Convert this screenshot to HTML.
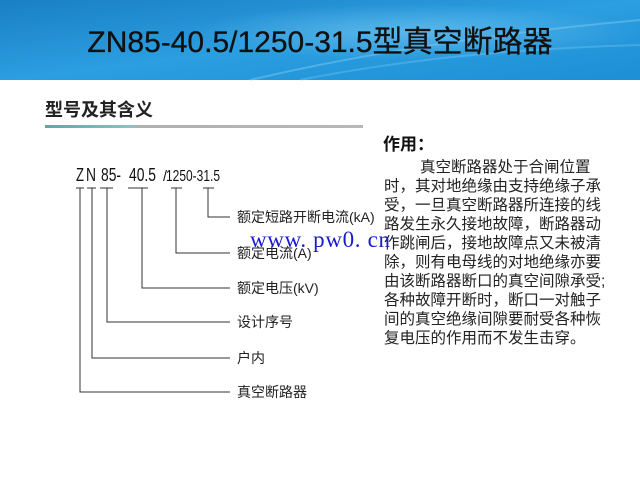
<!DOCTYPE html>
<html><head><meta charset="utf-8"><style>
html,body{margin:0;padding:0;width:640px;height:480px;overflow:hidden;background:#fff}
</style></head><body>
<svg width="640" height="480" xmlns="http://www.w3.org/2000/svg">
<defs>
<linearGradient id="bg" x1="0" y1="0" x2="1" y2="1">
<stop offset="0" stop-color="#1a7fc4"/><stop offset="0.5" stop-color="#2b9ee0"/><stop offset="1" stop-color="#1d8fd6"/>
</linearGradient>
<radialGradient id="glow" cx="0.65" cy="0.4" r="0.35">
<stop offset="0" stop-color="#7cc8f0" stop-opacity="0.6"/><stop offset="1" stop-color="#7cc8f0" stop-opacity="0"/>
</radialGradient>
<linearGradient id="ul" x1="0" x2="1"><stop offset="0" stop-color="#5aa8a8"/><stop offset="0.27" stop-color="#8fc0c0"/><stop offset="0.3" stop-color="#b0b0b0"/><stop offset="1" stop-color="#b8b8b8"/></linearGradient>
</defs>
<rect x="0" y="0" width="640" height="80" fill="url(#bg)"/>
<rect x="0" y="0" width="640" height="80" fill="url(#glow)"/>
<path d="M250 80 Q420 40 640 20" stroke="#8fd3f5" stroke-opacity="0.4" stroke-width="2" fill="none"/>
<path d="M300 80 Q450 50 640 45" stroke="#8fd3f5" stroke-opacity="0.3" stroke-width="2" fill="none"/>
<text x="320" y="52" text-anchor="middle" font-family="Liberation Sans, Noto Sans CJK SC, sans-serif" font-size="30" fill="#111" stroke="#111" stroke-width="0.3">ZN85-40.5/1250-31.5型真空断路器</text>
<text x="45" y="116" font-family="Liberation Sans, Noto Sans CJK SC, sans-serif" font-size="18" font-weight="bold" fill="#222">型号及其含义</text>
<rect x="45" y="125" width="318" height="3" fill="url(#ul)"/>

<g font-family="Liberation Sans Narrow, Liberation Sans, sans-serif" font-size="18" fill="#111" lengthAdjust="spacingAndGlyphs">
<text x="76" y="181" textLength="8" lengthAdjust="spacingAndGlyphs">Z</text>
<text x="86" y="181" textLength="10" lengthAdjust="spacingAndGlyphs">N</text>
<text x="101" y="181" textLength="20" lengthAdjust="spacingAndGlyphs">85-</text>
<text x="129" y="181" textLength="27" lengthAdjust="spacingAndGlyphs">40.5</text>
<text x="163" y="181" textLength="4" lengthAdjust="spacingAndGlyphs" font-size="15">/</text>
<text x="166" y="181" textLength="54" lengthAdjust="spacingAndGlyphs" font-size="16">1250-31.5</text>
</g>
<g stroke="#333" stroke-width="1" fill="none">
<path d="M76 188H84M87 188H96M100 188H113M128 188H148M171 188H182M203 188H214"/>
<path d="M80 188V392H230"/>
<path d="M92 188V358H230"/>
<path d="M107 188V322H230"/>
<path d="M142 188V288H230"/>
<path d="M176 188V253H230"/>
<path d="M208 188V217H230"/>
</g>
<g font-family="Liberation Sans Narrow, Liberation Sans, Noto Sans CJK SC, sans-serif" font-size="14" fill="#222">
<text x="237" y="222">额定短路开断电流(kA)</text>
<text x="237" y="258">额定电流(A)</text>
<text x="237" y="293">额定电压(kV)</text>
<text x="237" y="327">设计序号</text>
<text x="237" y="363">户内</text>
<text x="237" y="397">真空断路器</text>
</g>
<text x="383" y="150" font-family="Liberation Sans, Noto Sans CJK SC, sans-serif" font-size="17" font-weight="bold" fill="#111">作用：</text>
<g font-family="Liberation Sans, Noto Sans CJK SC, sans-serif" font-size="15.5" fill="#222">
<text x="420" y="172">真空断路器处于合闸位置</text>
<text x="384" y="191">时，其对地绝缘由支持绝缘子承</text>
<text x="384" y="210">受，一旦真空断路器所连接的线</text>
<text x="384" y="229">路发生永久接地故障，断路器动</text>
<text x="384" y="248">作跳闸后，接地故障点又未被清</text>
<text x="384" y="267">除，则有电母线的对地绝缘亦要</text>
<text x="384" y="286">由该断路器断口的真空间隙承受;</text>
<text x="384" y="305">各种故障开断时，断口一对触子</text>
<text x="384" y="324">间的真空绝缘间隙要耐受各种恢</text>
<text x="384" y="343">复电压的作用而不发生击穿。</text>
</g>
<text x="250" y="247" font-family="Liberation Serif, serif" font-size="23" fill="#1a1ad0" textLength="140" lengthAdjust="spacing">www. pw0. cn</text>
</svg>
</body></html>
